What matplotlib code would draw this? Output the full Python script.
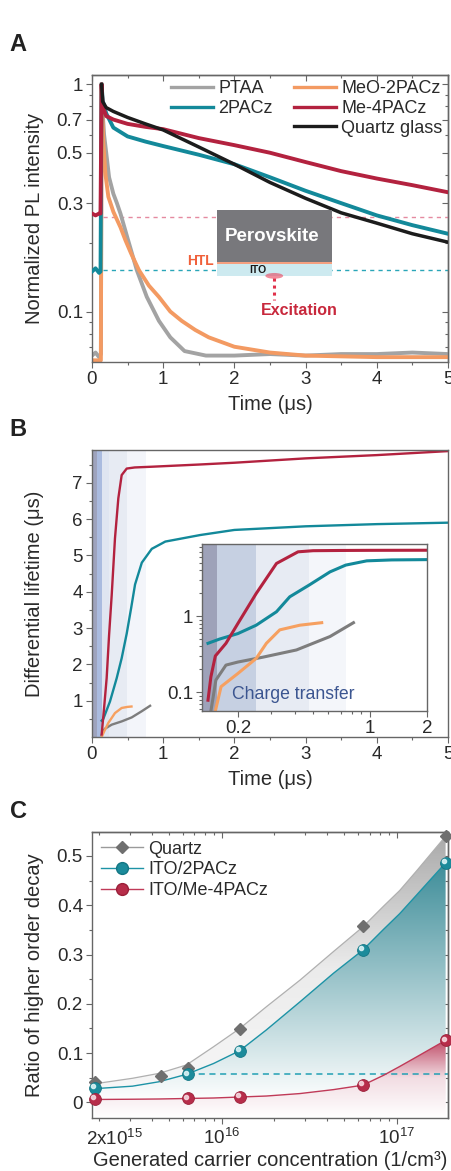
import numpy as np
import matplotlib
matplotlib.use('Agg')
import matplotlib.pyplot as plt
import matplotlib.transforms as mtransforms
from matplotlib.colors import LinearSegmentedColormap
from matplotlib.lines import Line2D
from matplotlib.patches import Rectangle, Ellipse
from matplotlib.ticker import FixedLocator, MultipleLocator, LogLocator, NullFormatter, FixedFormatter

plt.rcParams['font.family'] = ['Liberation Sans', 'DejaVu Sans']
plt.rcParams['mathtext.fontset'] = 'custom'
plt.rcParams['mathtext.rm'] = 'Liberation Sans'
plt.rcParams['axes.edgecolor'] = '#666666'
plt.rcParams['axes.linewidth'] = 1.0
plt.rcParams['text.color'] = '#2a2a2a'
plt.rcParams['axes.labelcolor'] = '#2a2a2a'
plt.rcParams['xtick.color'] = '#666666'
plt.rcParams['ytick.color'] = '#666666'
plt.rcParams['xtick.labelcolor'] = '#2a2a2a'
plt.rcParams['ytick.labelcolor'] = '#2a2a2a'

# ---------------- panel A : PL decay ----------------
t_ptaa = [0, 0.05, 0.1, 0.125, 0.135, 0.15, 0.17, 0.2, 0.24, 0.3, 0.35, 0.4, 0.5, 0.63,
          0.77, 0.94, 1.1, 1.3, 1.6, 2.0, 2.5, 3.0, 3.5, 4.0, 4.5, 5.0]
pl_ptaa = [0.064, 0.066, 0.063, 0.065, 1.0, 0.75, 0.6, 0.5, 0.39, 0.33, 0.30, 0.27, 0.21, 0.152,
           0.116, 0.091, 0.077, 0.067, 0.064, 0.064, 0.065, 0.064, 0.065, 0.065, 0.066, 0.065]

t_meo = [0, 0.1, 0.125, 0.135, 0.145, 0.16, 0.19, 0.23, 0.3, 0.4, 0.47, 0.55, 0.66, 0.8,
         0.94, 1.1, 1.26, 1.45, 1.64, 2.0, 2.5, 3.0, 4.0, 5.0]
pl_meo = [0.061, 0.061, 0.061, 1.0, 0.75, 0.55, 0.40, 0.32, 0.275, 0.235, 0.206, 0.18, 0.152, 0.13,
          0.116, 0.10, 0.091, 0.083, 0.077, 0.07, 0.066, 0.064, 0.063, 0.063]

t_long = [0, 0.05, 0.1, 0.12, 0.135, 0.15, 0.2, 0.3, 0.5, 0.75, 1.0, 1.5, 2.0, 2.5, 3.0, 3.5, 4.0, 4.5, 5.0]
pl_2pacz = [0.15, 0.155, 0.148, 0.15, 1.0, 0.85, 0.745, 0.645, 0.59, 0.56, 0.535, 0.49, 0.445,
            0.39, 0.34, 0.30, 0.265, 0.24, 0.22]
pl_me4 = [0.27, 0.265, 0.27, 0.27, 1.0, 0.80, 0.725, 0.70, 0.67, 0.65, 0.635, 0.58, 0.54,
          0.50, 0.455, 0.415, 0.385, 0.36, 0.335]

t_quartz = [0.135, 0.15, 0.2, 0.3, 0.5, 0.75, 1.0, 1.5, 2.0, 2.5, 3.0, 3.5, 4.0, 4.5, 5.0]
pl_quartz = [1.0, 0.84, 0.79, 0.76, 0.715, 0.67, 0.63, 0.53, 0.445, 0.37, 0.315, 0.272,
             0.245, 0.22, 0.202]

ref_me4 = 0.26
ref_2pacz = 0.152

# ---------------- panel B : differential lifetime ----------------
tb_me4 = [0.136, 0.17, 0.206, 0.24, 0.277, 0.323, 0.37, 0.417, 0.488, 0.6, 0.84, 1.5, 2.0, 3.0, 4.0, 5.0]
taub_me4 = [0.07, 0.8, 1.62, 2.8, 3.91, 5.47, 6.57, 7.21, 7.39, 7.42, 7.44, 7.5, 7.55, 7.67, 7.76, 7.87]
tb_2pacz = [0.136, 0.159, 0.253, 0.347, 0.417, 0.488, 0.55, 0.605, 0.7, 0.84, 1.03, 1.52, 2.0, 3.0, 4.0, 5.0]
taub_2pacz = [0.45, 0.5, 0.98, 1.62, 2.17, 2.85, 3.55, 4.2, 4.8, 5.18, 5.38, 5.56, 5.7, 5.8, 5.86, 5.9]
tb_meo = [0.136, 0.17, 0.23, 0.323, 0.417, 0.5, 0.555]
taub_meo = [0.0, 0.15, 0.39, 0.66, 0.80, 0.83, 0.84]
tb_ptaa = [0.136, 0.15, 0.183, 0.277, 0.417, 0.558, 0.699, 0.816]
taub_ptaa = [0.05, 0.15, 0.23, 0.34, 0.43, 0.54, 0.71, 0.86]

ti_me4 = [0.139, 0.144, 0.152, 0.173, 0.2, 0.25, 0.32, 0.416, 0.5, 0.7, 1.0, 2.0]
taui_me4 = [0.079, 0.16, 0.30, 0.44, 0.80, 1.98, 4.9, 6.96, 7.2, 7.25, 7.28, 7.3]
ti_2pacz = [0.139, 0.16, 0.2, 0.25, 0.32, 0.376, 0.476, 0.614, 0.743, 0.96, 1.3, 2.0]
taui_2pacz = [0.44, 0.5, 0.59, 0.76, 1.14, 1.79, 2.55, 3.8, 4.66, 5.3, 5.45, 5.5]
ti_meo = [0.152, 0.163, 0.2, 0.25, 0.283, 0.333, 0.425, 0.555]
taui_meo = [0.057, 0.119, 0.177, 0.279, 0.44, 0.66, 0.76, 0.82]
ti_ptaa = [0.144, 0.153, 0.173, 0.2, 0.272, 0.408, 0.614, 0.817]
taui_ptaa = [0.057, 0.145, 0.228, 0.25, 0.29, 0.36, 0.54, 0.82]

band_edges_main = [0, 0.066, 0.136, 0.244, 0.49, 0.755]
band_edges_inset = [0.13, 0.155, 0.25, 0.476, 0.743]
band_colors_main = ['#9ea3bd', '#aabbdf', '#dfe5f1', '#e7ebf3', '#f3f5fa']
band_colors_inset = ['#9ea2b9', '#c6d0e2', '#e7ebf3', '#f4f6fa']

# ---------------- panel C : higher order ratio ----------------
n_quartz = [1.9e15, 4.5e15, 6.4e15, 1.27e16, 6.4e16, 1.9e17]
r_quartz = [0.042, 0.053, 0.069, 0.148, 0.358, 0.540]
n_ito = [1.9e15, 6.4e15, 1.27e16, 6.4e16, 1.9e17]
r_2pacz = [0.030, 0.057, 0.105, 0.309, 0.486]
r_me4 = [0.0067, 0.008, 0.011, 0.035, 0.126]

n_fit = [1.9e15, 3.1e15, 4.4e15, 6.3e15, 9e15, 1.27e16, 1.8e16, 2.8e16, 4.35e16, 6.4e16,
         8.4e16, 1.04e17, 1.3e17, 1.9e17]
fit_quartz = [0.038, 0.049, 0.059, 0.076, 0.113, 0.150, 0.194, 0.248, 0.306, 0.356, 0.398,
              0.43, 0.47, 0.54]
fit_2pacz = [0.028, 0.033, 0.042, 0.057, 0.079, 0.105, 0.147, 0.204, 0.262, 0.309, 0.351,
             0.383, 0.421, 0.486]
fit_me4 = [0.006, 0.0065, 0.007, 0.008, 0.009, 0.011, 0.013, 0.018, 0.026, 0.035, 0.055,
           0.073, 0.0925, 0.126]

c_ptaa = '#a3a3a3'
c_teal = '#13899a'
c_orange = '#f39a62'
c_red = '#b3223f'
c_black = '#1c1c1c'

LABEL_FS = 14.5
TICK_FS = 13.5
LW_A = 2.8


def style(ax):
    ax.tick_params(which='both', direction='out', labelsize=TICK_FS, pad=2.5)
    ax.tick_params(which='major', length=4, width=0.8)
    ax.tick_params(which='minor', length=2.3, width=0.8)


def mirror(ax, xmaj, xmin, ymaj, ymin):
    top = ax.secondary_xaxis('top')
    top.xaxis.set_major_locator(xmaj)
    top.xaxis.set_minor_locator(xmin)
    top.tick_params(which='both', direction='in', labeltop=False, width=0.8)
    top.tick_params(which='major', length=4)
    top.tick_params(which='minor', length=2.3)
    right = ax.secondary_yaxis('right')
    right.yaxis.set_major_locator(ymaj)
    right.yaxis.set_minor_locator(ymin)
    right.tick_params(which='both', direction='in', labelright=False, width=0.8)
    right.tick_params(which='major', length=4)
    right.tick_params(which='minor', length=2.3)
    right.yaxis.set_minor_formatter(NullFormatter())
    top.xaxis.set_minor_formatter(NullFormatter())


fig = plt.figure(figsize=(4.52, 11.71), dpi=100)

# ======================= A =======================
axA = fig.add_axes([0.2035, 0.6909, 0.7876, 0.2451])
axA.set_yscale('log')
axA.hlines(ref_me4, 0.16, 5, colors='#e58aa0', linestyles=(0, (3, 3)), lw=1.0, zorder=1)
axA.hlines(ref_2pacz, 0.16, 5, colors='#2aa6b8', linestyles=(0, (3, 3)), lw=1.0, zorder=1)
axA.plot(t_ptaa, pl_ptaa, color=c_ptaa, lw=LW_A, zorder=2)
axA.plot(t_meo, pl_meo, color=c_orange, lw=LW_A, zorder=2)
axA.plot(t_long, pl_2pacz, color=c_teal, lw=LW_A, zorder=3)
axA.plot(t_long, pl_me4, color=c_red, lw=LW_A, zorder=3)
axA.plot(t_quartz, pl_quartz, color=c_black, lw=LW_A - 0.3, zorder=3)
axA.set_xlim(0, 5)
axA.set_ylim(0.06, 1.1)
axA.xaxis.set_major_locator(MultipleLocator(1))
axA.xaxis.set_minor_locator(MultipleLocator(0.5))
ymajA = [0.1, 0.3, 0.5, 0.7, 1]
axA.yaxis.set_major_locator(FixedLocator(ymajA))
axA.yaxis.set_major_formatter(FixedFormatter(['0.1', '0.3', '0.5', '0.7', '1']))
yminA = [0.07, 0.08, 0.09, 0.2, 0.4, 0.6, 0.8, 0.9]
axA.yaxis.set_minor_locator(FixedLocator(yminA))
axA.yaxis.set_minor_formatter(NullFormatter())
style(axA)
mirror(axA, MultipleLocator(1), MultipleLocator(0.5), FixedLocator(ymajA), FixedLocator(yminA))
axA.set_xlabel('Time (μs)', fontsize=LABEL_FS)
axA.set_ylabel('Normalized PL intensity', fontsize=LABEL_FS)
axA.xaxis.set_label_coords(0.5, -0.115)
axA.yaxis.set_label_coords(-0.135, 0.5)

hA = [Line2D([], [], color=c_ptaa, lw=2.4, label='PTAA'),
      Line2D([], [], color=c_teal, lw=2.4, label='2PACz'),
      Line2D([], [], color='none', label=' '),
      Line2D([], [], color=c_orange, lw=2.4, label='MeO-2PACz'),
      Line2D([], [], color=c_red, lw=2.4, label='Me-4PACz'),
      Line2D([], [], color=c_black, lw=2.4, label='Quartz glass')]
axA.legend(handles=hA, ncol=2, loc='upper right', frameon=False, fontsize=13,
           handlelength=2.3, handletextpad=0.3, columnspacing=1.2, labelspacing=0.15,
           borderaxespad=0.1, borderpad=0.2)

T = axA.transAxes
axA.add_patch(Rectangle((0.350, 0.300), 0.323, 0.042, transform=T, facecolor='#cdeaf0', edgecolor='none', zorder=6))
axA.add_patch(Rectangle((0.350, 0.342), 0.323, 0.008, transform=T, facecolor='#f5a080', edgecolor='none', zorder=6))
axA.add_patch(Rectangle((0.350, 0.350), 0.323, 0.180, transform=T, facecolor='#78787c', edgecolor='none', zorder=6))
axA.text(0.505, 0.438, 'Perovskite', transform=T, color='white', fontsize=13.5, fontweight='bold',
         ha='center', va='center', zorder=7)
axA.text(0.343, 0.352, 'HTL', transform=T, color='#f0603a', fontsize=10, fontweight='bold',
         ha='right', va='center', zorder=7)
axA.text(0.466, 0.321, 'ITO', transform=T, color='#1a1a1a', fontsize=7.5, fontweight='bold',
         ha='center', va='center', zorder=7)
axA.add_patch(Ellipse((0.512, 0.300), 0.05, 0.02, transform=T, facecolor='#e8405a', edgecolor='none',
                      alpha=0.6, zorder=7))
axA.plot([0.512, 0.512], [0.292, 0.215], transform=T, color='#e0304a', lw=2.2, ls=(0, (1, 1.3)), zorder=7)
axA.text(0.583, 0.181, 'Excitation', transform=T, color='#c8283c', fontsize=11.5, fontweight='bold',
         ha='center', va='center', zorder=7)

# ======================= B =======================
axB = fig.add_axes([0.2035, 0.3706, 0.7876, 0.2451])
for i, col in enumerate(band_colors_main):
    axB.axvspan(band_edges_main[i], band_edges_main[i + 1], color=col, lw=0, zorder=0)
axB.plot(tb_ptaa, taub_ptaa, color='#7d7d7d', lw=1.7)
axB.plot(tb_meo, taub_meo, color='#f6a060', lw=1.7)
axB.plot(tb_2pacz, taub_2pacz, color=c_teal, lw=1.7)
axB.plot(tb_me4, taub_me4, color=c_red, lw=1.7)
axB.set_xlim(0, 5)
axB.set_ylim(0, 7.9)
axB.xaxis.set_major_locator(MultipleLocator(1))
axB.xaxis.set_minor_locator(MultipleLocator(0.5))
axB.yaxis.set_major_locator(FixedLocator([1, 2, 3, 4, 5, 6, 7]))
axB.yaxis.set_minor_locator(FixedLocator(np.arange(0.5, 7.9, 0.5)))
style(axB)
axB.set_xlabel('Time (μs)', fontsize=LABEL_FS)
axB.set_ylabel('Differential lifetime (μs)', fontsize=LABEL_FS)
axB.xaxis.set_label_coords(0.5, -0.115)
axB.yaxis.set_label_coords(-0.135, 0.5)

axI = fig.add_axes([0.448, 0.3928, 0.4967, 0.1426])
axI.set_xscale('log')
axI.set_yscale('log')
for i, col in enumerate(band_colors_inset):
    axI.axvspan(band_edges_inset[i], band_edges_inset[i + 1], color=col, lw=0, zorder=0)
axI.plot(ti_ptaa, taui_ptaa, color='#7d7d7d', lw=2.2)
axI.plot(ti_meo, taui_meo, color='#f6a060', lw=2.2)
axI.plot(ti_2pacz, taui_2pacz, color=c_teal, lw=2.2)
axI.plot(ti_me4, taui_me4, color=c_red, lw=2.2)
axI.set_xlim(0.13, 2)
axI.set_ylim(0.057, 8.8)
axI.xaxis.set_major_locator(FixedLocator([0.2, 1, 2]))
axI.xaxis.set_major_formatter(FixedFormatter(['0.2', '1', '2']))
axI.xaxis.set_minor_locator(LogLocator(base=10, subs=np.arange(2, 10)))
axI.xaxis.set_minor_formatter(NullFormatter())
axI.yaxis.set_major_locator(FixedLocator([0.1, 1]))
axI.yaxis.set_major_formatter(FixedFormatter(['0.1', '1']))
axI.yaxis.set_minor_locator(LogLocator(base=10, subs=np.arange(2, 10)))
axI.yaxis.set_minor_formatter(NullFormatter())
style(axI)
axI.text(0.405, 0.1, 'Charge transfer', transform=axI.transAxes, color='#3b5590', fontsize=12.7,
         ha='center', va='center')

# ======================= C =======================
axC = fig.add_axes([0.2035, 0.0455, 0.7876, 0.2442])
axC.set_xscale('log')
xlimC = (1.82e15, 1.96e17)
ylimC = (-0.031, 0.549)
axC.set_xlim(*xlimC)
axC.set_ylim(*ylimC)


def gradient_fill(ax, x, ytop, ybot, colors, vlo, vhi):
    poly = ax.fill_between(x, ybot, ytop, facecolor='none', edgecolor='none')
    cmap = LinearSegmentedColormap.from_list('g', colors)
    ylo, yhi = ax.get_ylim()
    grad = np.linspace(ylo, yhi, 300).reshape(-1, 1)
    img = ax.imshow(grad, cmap=cmap, vmin=vlo, vmax=vhi, origin='lower', aspect='auto',
                    extent=[0, 1, 0, 1], transform=ax.transAxes, zorder=1, interpolation='bilinear')
    img.set_clip_path(poly.get_paths()[0], transform=ax.transData)


bottom = [ylimC[0]] * len(n_fit)
gradient_fill(axC, n_fit, fit_quartz, fit_2pacz, ['#f8f8f8', '#ebebeb', '#a8a8a8'], 0.0, 0.55)
gradient_fill(axC, n_fit, fit_2pacz, bottom, ['#ffffff', '#3a8b97'], 0.0, 0.5)
gradient_fill(axC, n_fit, fit_me4, bottom, ['#ffffff', '#f2dde3', '#bd4662'], -0.031, 0.13)
axC.set_xlim(*xlimC)
axC.set_ylim(*ylimC)

axC.hlines(r_2pacz[1], n_ito[1], xlimC[1], colors='#22a0b4', linestyles=(0, (4, 3)), lw=1.1, zorder=2)
axC.plot(n_fit, fit_quartz, color='#b0b0b0', lw=0.9, zorder=3)
axC.plot(n_fit, fit_2pacz, color='#1d93a6', lw=1.0, zorder=3)
axC.plot(n_fit, fit_me4, color='#c03a58', lw=1.0, zorder=3)
axC.plot(n_quartz, r_quartz, ls='none', marker='D', ms=6.5, color='#6f6f6f', zorder=5, clip_on=False)
axC.plot(n_ito, r_2pacz, ls='none', marker='o', ms=8.5, mfc='#1b8b9b', mec='#137684', mew=0.6,
         zorder=5, clip_on=False)
axC.plot(n_ito, r_me4, ls='none', marker='o', ms=8.5, mfc='#b72d4a', mec='#9a2039', mew=0.6,
         zorder=5, clip_on=False)
hl = mtransforms.offset_copy(axC.transData, fig=fig, x=-1.3, y=1.3, units='points')
axC.plot(n_ito, r_2pacz, ls='none', marker='o', ms=3, color='#d8f2f5', alpha=0.9, zorder=6,
         clip_on=False, transform=hl)
axC.plot(n_ito, r_me4, ls='none', marker='o', ms=3, color='#f6d6dd', alpha=0.9, zorder=6,
         clip_on=False, transform=hl)

axC.xaxis.set_major_locator(FixedLocator([1e16, 1e17]))
axC.xaxis.set_major_formatter(FixedFormatter(['10$^{16}$', '10$^{17}$']))
axC.xaxis.set_minor_locator(LogLocator(base=10, subs=np.arange(2, 10)))
axC.xaxis.set_minor_formatter(NullFormatter())
ymajC = [0, 0.1, 0.2, 0.3, 0.4, 0.5]
axC.yaxis.set_major_locator(FixedLocator(ymajC))
axC.yaxis.set_major_formatter(FixedFormatter(['0', '0.1', '0.2', '0.3', '0.4', '0.5']))
axC.yaxis.set_minor_locator(FixedLocator([0.05, 0.15, 0.25, 0.35, 0.45]))
style(axC)
mirror(axC, FixedLocator([1e16, 1e17]), LogLocator(base=10, subs=np.arange(2, 10)),
       FixedLocator(ymajC), FixedLocator([0.05, 0.15, 0.25, 0.35, 0.45]))
lbl_tr = axC.get_xaxis_transform() + mtransforms.ScaledTranslation(0.15, 0, fig.dpi_scale_trans)
axC.text(2e15, -0.035, '2x10$^{15}$', transform=lbl_tr, ha='center', va='top', fontsize=TICK_FS)
axC.set_xlabel('Generated carrier concentration (1/cm³)', fontsize=LABEL_FS)
axC.set_ylabel('Ratio of higher order decay', fontsize=LABEL_FS)
axC.xaxis.set_label_coords(0.5, -0.115)
axC.yaxis.set_label_coords(-0.135, 0.5)

hC = [Line2D([], [], color='#9a9a9a', lw=1.0, marker='D', ms=6.5, mfc='#6f6f6f', mec='#6f6f6f', label='Quartz'),
      Line2D([], [], color='#1d93a6', lw=1.0, marker='o', ms=8.5, mfc='#1b8b9b', mec='#137684', label='ITO/2PACz'),
      Line2D([], [], color='#c03a58', lw=1.0, marker='o', ms=8.5, mfc='#b72d4a', mec='#9a2039', label='ITO/Me-4PACz')]
axC.legend(handles=hC, loc='upper left', frameon=False, fontsize=13, handlelength=2.3,
           handletextpad=0.3, labelspacing=0.2, borderaxespad=0.2, borderpad=0.3)

for letter, yy in [('A', 0.9616), ('B', 0.6328), ('C', 0.3066)]:
    fig.text(0.04, yy, letter, fontsize=17, fontweight='bold', ha='center', va='center',
             family=['Liberation Sans Narrow', 'Liberation Sans'], color='#222222')

fig.savefig('out.png', dpi=100)
